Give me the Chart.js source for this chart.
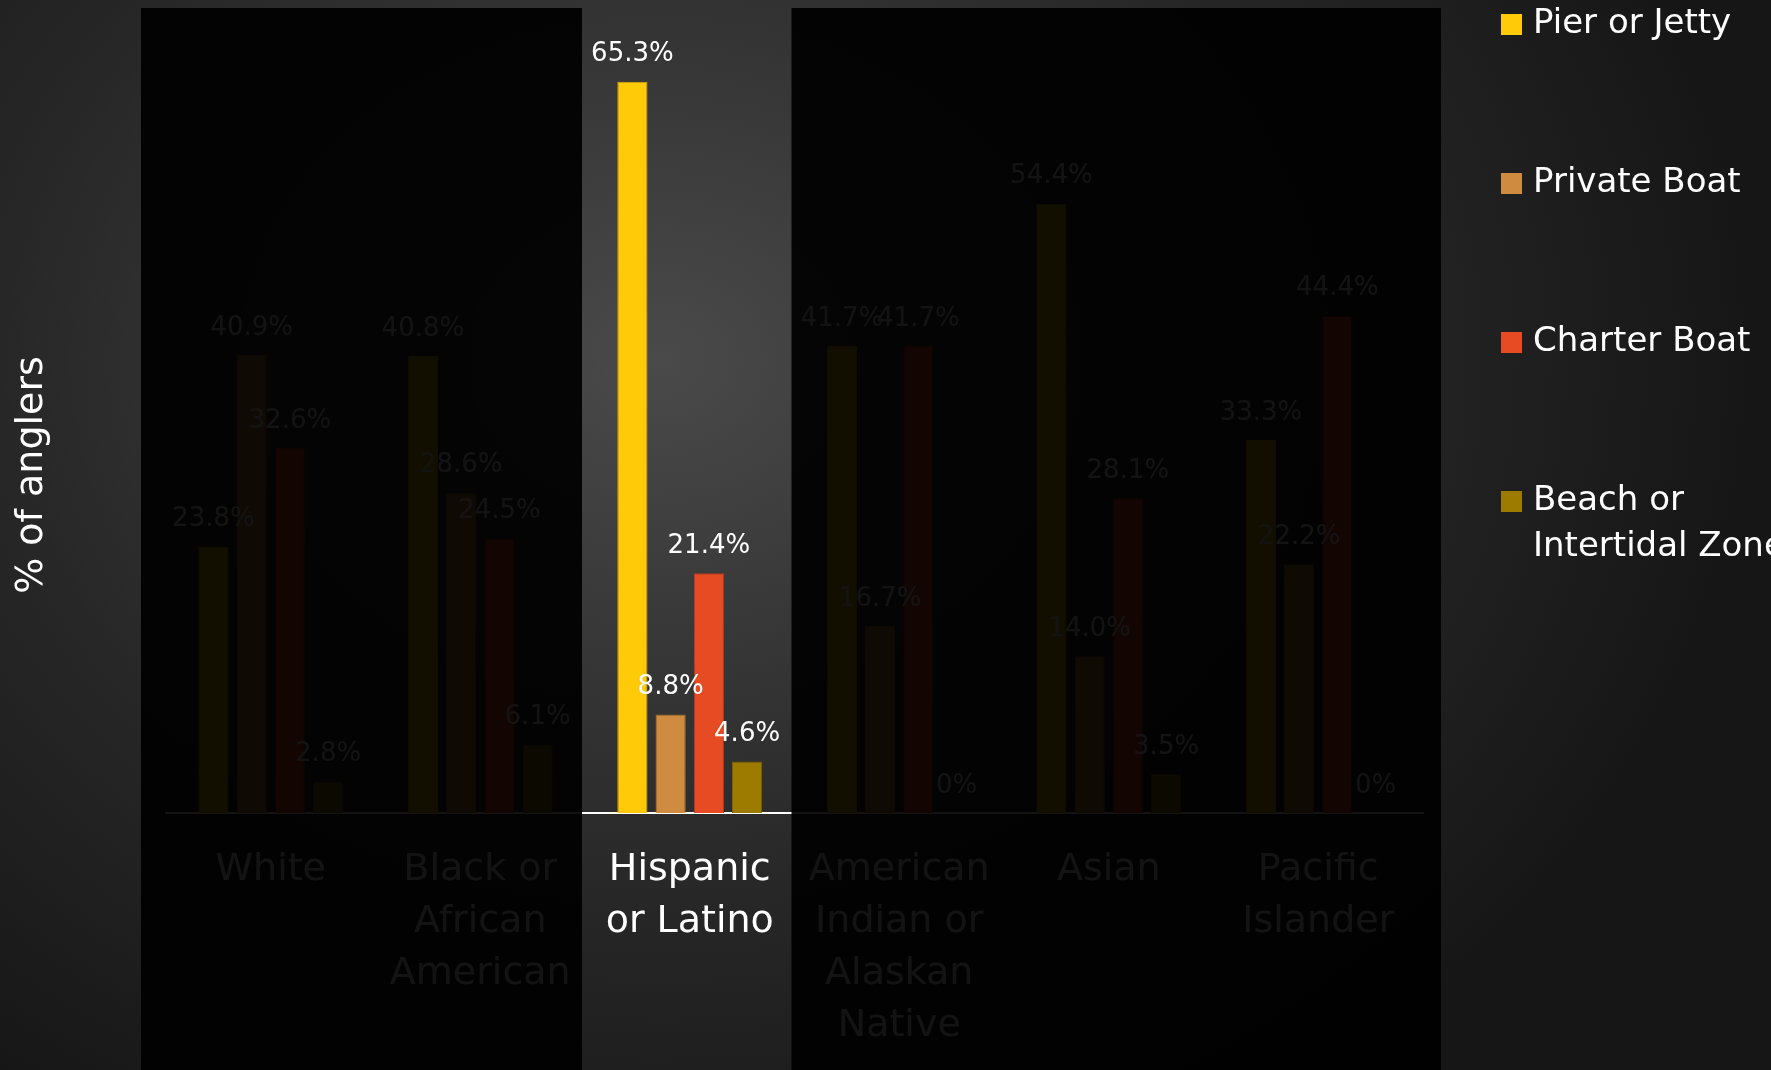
<!DOCTYPE html>
<html>
<head>
<meta charset="utf-8">
<title>Fishing mode by race / ethnicity</title>
<script src="https://cdn.jsdelivr.net/npm/chart.js@4/dist/chart.umd.min.js"></script>
<style>
  html, body { margin: 0; padding: 0; }
  body {
    width: 1771px; height: 1070px; overflow: hidden;
    background: radial-gradient(ellipse 1100px 900px at 660px 360px, #4a4a4a 0%, #383838 30%, #272727 60%, #161616 100%);
  }
  canvas { display: block; }
</style>
</head>
<body>
<canvas id="myChart" width="1771" height="1070"></canvas>
<script>
// DATA
// *************************
var categories = [
  ['White'],
  ['Black or', 'African', 'American'],
  ['Hispanic', 'or Latino'],
  ['American', 'Indian or', 'Alaskan', 'Native'],
  ['Asian'],
  ['Pacific', 'Islander']
];
var seriesNames = ['Pier or Jetty', 'Private Boat', 'Charter Boat', 'Beach or\nIntertidal Zone'];
var seriesColors = ['#ffca08', '#cf8c40', '#e74b24', '#9d7a00'];
var seriesBorders = ['#e0a800', '#a8702f', '#b83a1a', '#7d6000'];

var pierJetty       = [23.8, 40.8, 65.3, 41.7, 54.4, 33.3];
var privateBoat     = [40.9, 28.6, 8.8, 16.7, 14.0, 22.2];
var charterBoat     = [32.6, 24.5, 21.4, 41.7, 28.1, 44.4];
var beachIntertidal = [2.8, 6.1, 4.6, 0, 3.5, 0];

var highlighted = 2; // Hispanic or Latino stays lit, the rest is dimmed
var yMax = 70;

var FONT = '"DejaVu Sans", sans-serif';

// labels above every bar
var valueLabels = {
  id: 'valueLabels',
  afterDatasetsDraw: function(chart) {
    var ctx = chart.ctx;
    ctx.save();
    ctx.font = '26px ' + FONT;
    ctx.fillStyle = '#ffffff';
    ctx.textAlign = 'center';
    ctx.textBaseline = 'middle';
    chart.data.datasets.forEach(function(ds, i) {
      chart.getDatasetMeta(i).data.forEach(function(bar, j) {
        var v = ds.data[j];
        var txt = v === 0 ? '0%' : v.toFixed(1) + '%';
        ctx.fillText(txt, bar.x, bar.y - 27);
      });
    });
    ctx.restore();
  }
};

// dark curtains, axis title and legend
var decorations = {
  id: 'decorations',
  afterDraw: function(chart) {
    var ctx = chart.ctx;
    var area = chart.chartArea;
    var x = chart.scales.x;
    var catW = (area.right - area.left) / categories.length;
    var hiLeft = x.getPixelForValue(highlighted) - catW / 2 - 3;
    var hiRight = hiLeft + catW;
    var top = 8;
    var bottom = chart.height;

    ctx.save();
    ctx.fillStyle = 'rgba(0,0,0,0.925)';
    ctx.fillRect(area.left - 25, top, hiLeft - (area.left - 25), bottom - top);
    ctx.fillRect(hiRight, top, (area.right + 18) - hiRight, bottom - top);

    // y title
    ctx.fillStyle = '#ffffff';
    ctx.font = '38px ' + FONT;
    ctx.textAlign = 'center';
    ctx.textBaseline = 'middle';
    ctx.translate(32, 475);
    ctx.rotate(-Math.PI / 2);
    ctx.fillText('% of anglers', 0, 0);
    ctx.restore();

    // legend
    ctx.save();
    ctx.font = '34px ' + FONT;
    ctx.textAlign = 'left';
    ctx.textBaseline = 'middle';
    chart.data.datasets.forEach(function(ds, i) {
      var y = 24 + i * 159;
      ctx.fillStyle = ds.backgroundColor;
      ctx.fillRect(1501, y - 10, 21, 21);
      ctx.fillStyle = '#ffffff';
      ds.label.split('\n').forEach(function(line, k) {
        ctx.fillText(line, 1533, y + k * 46);
      });
    });
    ctx.restore();
  }
};

var seriesData = [pierJetty, privateBoat, charterBoat, beachIntertidal];
var datasets = seriesData.map(function(d, i) {
  return {
    label: seriesNames[i],
    data: d,
    backgroundColor: seriesColors[i],
    borderColor: seriesBorders[i],
    borderWidth: 1,
    categoryPercentage: 0.73,
    barPercentage: 0.79
  };
});

var ctx = document.getElementById('myChart').getContext('2d');
var myChart = new Chart(ctx, {
  type: 'bar',
  data: {
    labels: categories,
    datasets: datasets
  },
  options: {
    responsive: false,
    animation: false,
    events: [],
    layout: {
      padding: { left: 166, right: 348, top: 29, bottom: 0 }
    },
    plugins: {
      legend: { display: false },
      tooltip: { enabled: false }
    },
    scales: {
      x: {
        grid: { display: false, drawTicks: false },
        border: { display: true, color: '#ffffff', width: 2 },
        ticks: {
          color: '#ffffff',
          font: { family: FONT, size: 38, lineHeight: 1.37 },
          padding: 31,
          autoSkip: false,
          maxRotation: 0
        },
        afterFit: function(scale) {
          scale.height = 257;
        }
      },
      y: {
        display: false,
        min: 0,
        max: yMax
      }
    }
  },
  plugins: [valueLabels, decorations]
});
</script>
</body>
</html>
